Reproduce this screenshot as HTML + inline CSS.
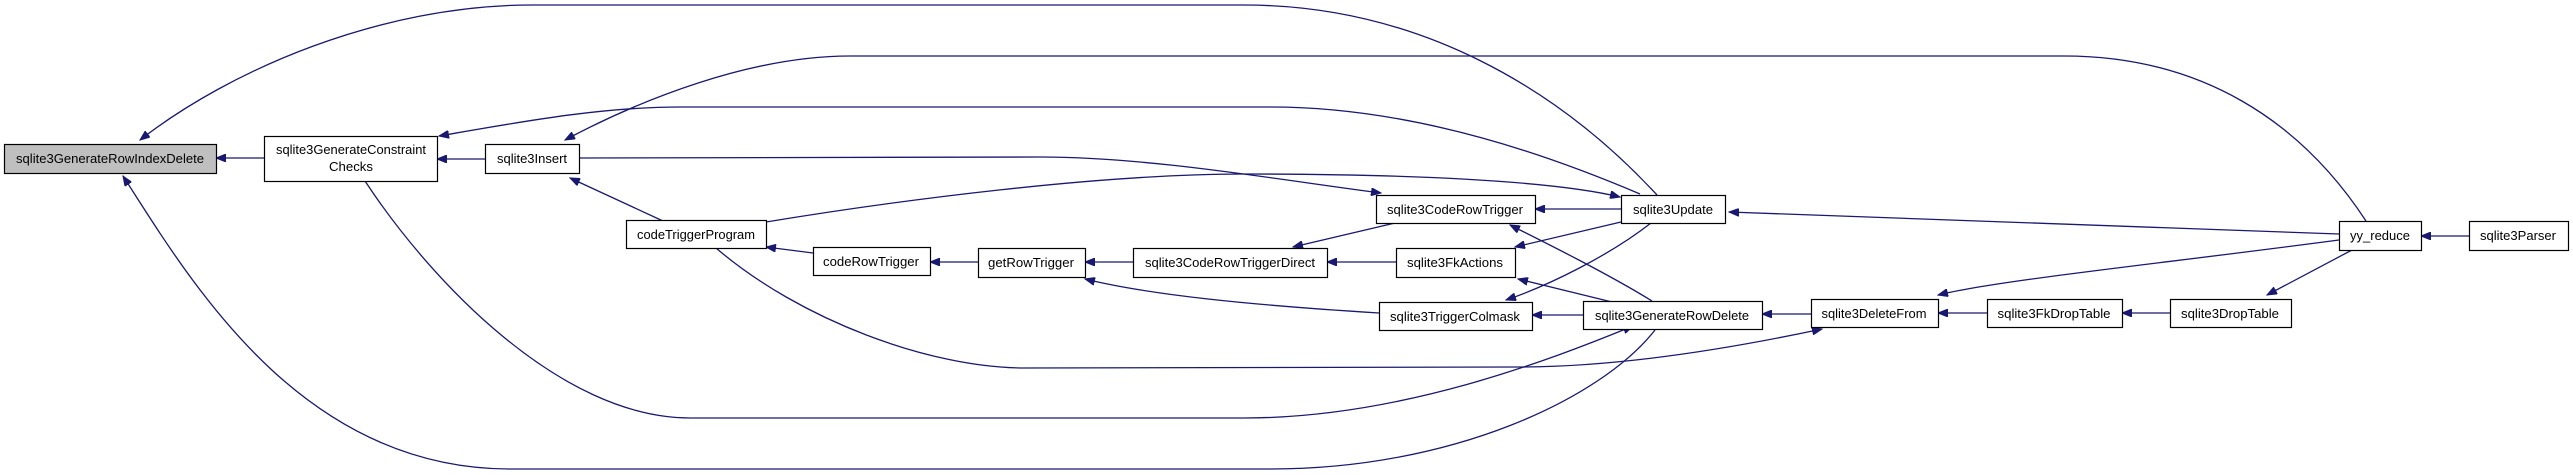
<!DOCTYPE html>
<html><head><meta charset="utf-8"><style>html,body{margin:0;padding:0;background:#fff}svg{display:block}</style></head>
<body>
<svg width="2573" height="475" viewBox="0 0 2573 475" xmlns="http://www.w3.org/2000/svg" font-family="Liberation Sans, sans-serif" font-size="13">
<defs>
<marker id="a" markerWidth="11" markerHeight="8" refX="10" refY="4" orient="auto" markerUnits="userSpaceOnUse">
<path d="M0,0 L10,4 L0,8 Z" fill="#191970" stroke="#191970"/>
</marker>
</defs>
<g fill="none" stroke="#191970" stroke-width="1.3" marker-end="url(#a)">
<path d="M264,158 L216,158"/>
<path d="M485,159 L437,159"/>
<path d="M663,221 L570,178"/>
<path d="M813,253 L766,247"/>
<path d="M978,262 L930,262"/>
<path d="M1133,262 L1085,262"/>
<path d="M1396,262 L1327,262"/>
<path d="M1395,223 L1293,247"/>
<path d="M1621,209 L1535,209"/>
<path d="M1621,222 L1515,247"/>
<path d="M1651,223 C1610,255 1550,285 1506,300"/>
<path d="M1652,301 C1610,275 1550,245 1510,225"/>
<path d="M1612,302 L1518,279"/>
<path d="M1583,315 L1532,315"/>
<path d="M1379,313 C1250,305 1150,295 1085,279"/>
<path d="M1811,314 L1762,314"/>
<path d="M1987,313 L1938,313"/>
<path d="M2170,313 L2122,313"/>
<path d="M2352,250 L2267,295"/>
<path d="M2339,240 C2150,265 2000,280 1938,295"/>
<path d="M2339,234 L1729,212"/>
<path d="M2469,236 L2421,236"/>
<path d="M2366,221 C2300,120 2200,56 2064,56 L850,56 C750,56 640,100 565,140"/>
<path d="M1657,195 C1560,90 1420,5 1244,5 L532,5 C380,5 230,70 140,140"/>
<path d="M1640,194 C1560,160 1420,107 1271,107 L680,107 C600,107 520,122 439,136"/>
<path d="M579,158 L1041,157 C1150,157 1280,180 1381,193"/>
<path d="M766,222 C900,200 1100,174 1244,174 C1400,174 1550,180 1620,197"/>
<path d="M716,248 C800,320 930,368 1025,368 L1518,367 C1600,367 1700,355 1822,329"/>
<path d="M365,181 C430,280 560,418 690,418 L1244,418 C1400,418 1550,360 1633,326"/>
<path d="M1655,330 C1600,400 1450,469 1271,469 L510,469 C300,469 190,280 123,176"/>
</g>
<g stroke="#000" stroke-width="1.2" fill="#fff">
<rect x="4.5" y="144.5" width="212" height="29" fill="#bfbfbf"/>
<rect x="264.5" y="136.5" width="173" height="45"/>
<rect x="485.5" y="144.5" width="94" height="29"/>
<rect x="626.5" y="220.5" width="140" height="28"/>
<rect x="813.5" y="247.5" width="117" height="28"/>
<rect x="978.5" y="248.5" width="107" height="29"/>
<rect x="1133.5" y="248.5" width="194" height="29"/>
<rect x="1396.5" y="248.5" width="119" height="29"/>
<rect x="1376.5" y="195.5" width="159" height="28"/>
<rect x="1621.5" y="195.5" width="104" height="28"/>
<rect x="1379.5" y="302.5" width="153" height="28"/>
<rect x="1583.5" y="301.5" width="179" height="28"/>
<rect x="1811.5" y="299.5" width="127" height="28"/>
<rect x="1987.5" y="299.5" width="135" height="28"/>
<rect x="2170.5" y="299.5" width="121" height="28"/>
<rect x="2339.5" y="221.5" width="82" height="29"/>
<rect x="2469.5" y="221.5" width="99" height="29"/>
</g>
<g fill="#000" text-anchor="middle">
<text x="110" y="163" textLength="188" lengthAdjust="spacingAndGlyphs">sqlite3GenerateRowIndexDelete</text>
<text x="351" y="154" textLength="150" lengthAdjust="spacingAndGlyphs">sqlite3GenerateConstraint</text>
<text x="351" y="171" textLength="44" lengthAdjust="spacingAndGlyphs">Checks</text>
<text x="532" y="163" textLength="70" lengthAdjust="spacingAndGlyphs">sqlite3Insert</text>
<text x="696" y="239" textLength="118" lengthAdjust="spacingAndGlyphs">codeTriggerProgram</text>
<text x="871" y="266" textLength="96" lengthAdjust="spacingAndGlyphs">codeRowTrigger</text>
<text x="1031" y="267" textLength="86" lengthAdjust="spacingAndGlyphs">getRowTrigger</text>
<text x="1230" y="267" textLength="170" lengthAdjust="spacingAndGlyphs">sqlite3CodeRowTriggerDirect</text>
<text x="1455" y="267" textLength="96" lengthAdjust="spacingAndGlyphs">sqlite3FkActions</text>
<text x="1455" y="214" textLength="136" lengthAdjust="spacingAndGlyphs">sqlite3CodeRowTrigger</text>
<text x="1673" y="214" textLength="80" lengthAdjust="spacingAndGlyphs">sqlite3Update</text>
<text x="1455" y="321" textLength="130" lengthAdjust="spacingAndGlyphs">sqlite3TriggerColmask</text>
<text x="1672" y="320" textLength="154" lengthAdjust="spacingAndGlyphs">sqlite3GenerateRowDelete</text>
<text x="1874" y="318" textLength="105" lengthAdjust="spacingAndGlyphs">sqlite3DeleteFrom</text>
<text x="2054" y="318" textLength="113" lengthAdjust="spacingAndGlyphs">sqlite3FkDropTable</text>
<text x="2230" y="318" textLength="98" lengthAdjust="spacingAndGlyphs">sqlite3DropTable</text>
<text x="2380" y="240" textLength="60" lengthAdjust="spacingAndGlyphs">yy_reduce</text>
<text x="2518" y="240" textLength="76" lengthAdjust="spacingAndGlyphs">sqlite3Parser</text>
</g>
</svg>
</body></html>
